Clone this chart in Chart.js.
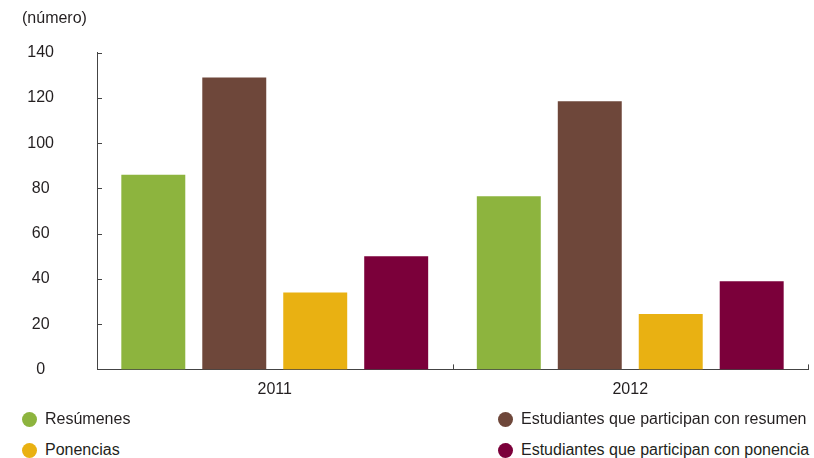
<!DOCTYPE html>
<html>
<head>
<meta charset="utf-8">
<script src="https://cdn.jsdelivr.net/npm/chart.js@4.4.1/dist/chart.umd.min.js"></script>
<style>
  body { margin: 0; background: #fff; font-family: "Liberation Sans", Arial, sans-serif; }
  #wrap { position: relative; width: 814px; height: 458px; }
  #chart { position: absolute; left: 0; top: 0; }
  #legend { position: absolute; left: 0; top: 406px; width: 814px; font-size: 16px; color: #231f20; }
  .item { position: absolute; display: flex; align-items: center; white-space: nowrap; }
  .dot { width: 15px; height: 15px; border-radius: 50%; margin-right: 8px; }
</style>
</head>
<body>
<div id="wrap">
  <canvas id="chart" width="814" height="422"></canvas>
  <div id="legend"></div>
</div>
<script>
const years = ["2011", "2012"];
const resumenes = [86, 76.5];
const estResumen = [129, 118.5];
const ponencias = [34, 24.5];
const estPonencia = [50, 39];
const seriesNames = ["Resúmenes", "Estudiantes que participan con resumen", "Ponencias", "Estudiantes que participan con ponencia"];
const colors = ["#8db43e", "#6e473a", "#e9b112", "#7b003a"];

const textColor = "#231f20";
const axisColor = "#444";
const font = { family: "'Liberation Sans', Arial, sans-serif", size: 16 };

// ticks on the inside of the axes
const innerTicks = {
    id: "innerTicks",
    afterDraw(chart) {
        const ctx = chart.ctx;
        const x = chart.scales.x, y = chart.scales.y;
        ctx.save();
        ctx.strokeStyle = axisColor;
        ctx.lineWidth = 1;
        ctx.beginPath();
        y.ticks.forEach(t => {
            const py = Math.round(y.getPixelForValue(t.value)) + 0.5;
            ctx.moveTo(x.left, py);
            ctx.lineTo(x.left + 5, py);
        });
        const half = (x.getPixelForTick(1) - x.getPixelForTick(0)) / 2;
        years.forEach((yr, i) => {
            const px = Math.round(x.getPixelForTick(i) + half) + 0.5;
            ctx.moveTo(px, y.bottom);
            ctx.lineTo(px, y.bottom - 5);
        });
        ctx.stroke();
        ctx.restore();
    }
};

const chart = new Chart(document.getElementById("chart"), {
    type: "bar",
    data: {
        labels: years,
        datasets: [
            { label: seriesNames[0], data: resumenes, backgroundColor: colors[0] },
            { label: seriesNames[1], data: estResumen, backgroundColor: colors[1] },
            { label: seriesNames[2], data: ponencias, backgroundColor: colors[2] },
            { label: seriesNames[3], data: estPonencia, backgroundColor: colors[3] }
        ]
    },
    options: {
        responsive: false,
        animation: false,
        layout: { padding: { left: 22, right: 6, top: 0, bottom: 0 } },
        datasets: { bar: { categoryPercentage: 0.911, barPercentage: 0.79 } },
        plugins: {
            legend: { display: false },
            tooltip: { enabled: false },
            title: {
                display: true, text: "(número)", align: "start", color: textColor,
                font: { ...font, weight: "normal" }, padding: { top: 8, bottom: 24 }
            }
        },
        scales: {
            x: {
                grid: { display: false, drawTicks: false },
                border: { display: true, color: axisColor, width: 1 },
                ticks: { color: textColor, font: font, padding: 11 }
            },
            y: {
                min: 0, max: 140,
                grid: { display: false, drawTicks: false },
                border: { display: true, color: axisColor, width: 1 },
                ticks: { stepSize: 20, color: textColor, font: font, padding: 43, crossAlign: "center" },
                afterFit(s) { s.width = 75; }
            }
        }
    },
    plugins: [innerTicks]
});

// legend in two columns, order as in the original
const legend = document.getElementById("legend");
const spots = [[22, 4], [498, 4], [22, 35], [498, 35]];
chart.data.datasets.forEach((ds, i) => {
    const el = document.createElement("div");
    el.className = "item";
    el.style.left = spots[i][0] + "px";
    el.style.top = spots[i][1] + "px";
    el.innerHTML = '<span class="dot" style="background:' + ds.backgroundColor + '"></span>' + ds.label;
    legend.appendChild(el);
});
</script>
</body>
</html>
